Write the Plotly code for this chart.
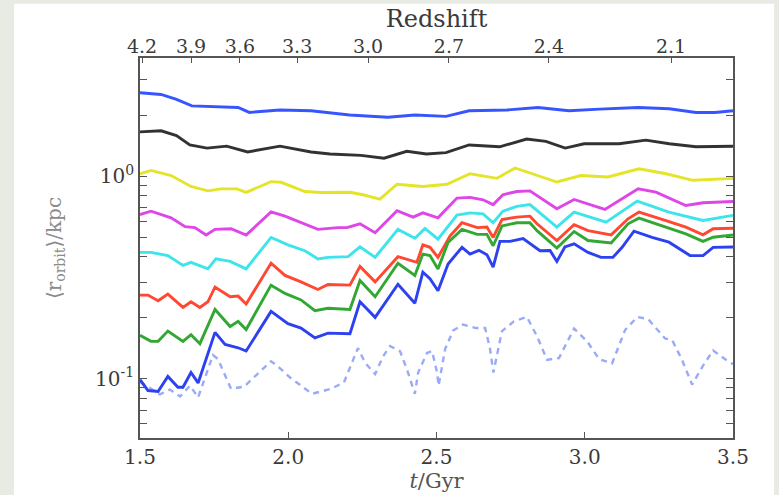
import plotly.graph_objects as go

# ---------------- data (t in Gyr, <r_orbit> in kpc) ----------------
t_blue_top = [1.5, 1.571, 1.623, 1.675, 1.831, 1.869, 1.972, 2.077, 2.207, 2.336, 2.427, 2.532,
              2.610, 2.738, 2.842, 2.947, 3.050, 3.180, 3.285, 3.375, 3.439, 3.5]
r_blue_top = [2.59, 2.54, 2.40, 2.23, 2.19, 2.07, 2.13, 2.11, 2.01, 1.96, 2.01, 1.98,
              2.11, 2.13, 2.19, 2.11, 2.15, 2.19, 2.16, 2.07, 2.07, 2.11]

t_black = [1.5, 1.571, 1.623, 1.668, 1.726, 1.792, 1.863, 1.972, 2.077, 2.141, 2.245, 2.323, 2.400,
           2.466, 2.532, 2.610, 2.713, 2.804, 2.869, 2.934, 2.998, 3.116, 3.206, 3.285, 3.375, 3.5]
r_black = [1.66, 1.68, 1.59, 1.43, 1.38, 1.41, 1.32, 1.41, 1.32, 1.29, 1.27, 1.23, 1.33,
           1.29, 1.31, 1.43, 1.40, 1.53, 1.49, 1.38, 1.45, 1.45, 1.51, 1.45, 1.40, 1.41]

t_yellow = [1.5, 1.537, 1.605, 1.672, 1.729, 1.773, 1.827, 1.858, 1.942, 1.976, 2.056, 2.110, 2.208,
            2.252, 2.309, 2.367, 2.454, 2.535, 2.613, 2.704, 2.765, 2.906, 2.987, 3.078, 3.183,
            3.274, 3.365, 3.5]
r_yellow = [1.03, 1.07, 1.01, 0.891, 0.848, 0.867, 0.867, 0.833, 0.942, 0.935, 0.842, 0.833, 0.835,
            0.811, 0.772, 0.914, 0.891, 0.914, 1.03, 0.978, 1.10, 0.938, 1.01, 0.993, 1.09,
            1.03, 0.956, 0.978]

t_magenta = [1.5, 1.537, 1.605, 1.652, 1.685, 1.723, 1.753, 1.807, 1.858, 1.942, 1.989, 2.056, 2.100,
             2.168, 2.198, 2.242, 2.293, 2.367, 2.421, 2.454, 2.505, 2.569, 2.613, 2.657, 2.691,
             2.724, 2.771, 2.815, 2.906, 2.964, 3.068, 3.180, 3.240, 3.341, 3.399, 3.5]
r_magenta = [0.648, 0.673, 0.624, 0.564, 0.558, 0.513, 0.547, 0.551, 0.513, 0.667, 0.636, 0.578, 0.547,
             0.558, 0.558, 0.583, 0.527, 0.677, 0.629, 0.660, 0.624, 0.781, 0.787, 0.766, 0.725,
             0.811, 0.842, 0.848, 0.692, 0.769, 0.687, 0.869, 0.836, 0.718, 0.741, 0.751]

t_cyan = [1.5, 1.537, 1.594, 1.645, 1.672, 1.729, 1.756, 1.804, 1.858, 1.942, 1.999, 2.056, 2.100,
          2.134, 2.202, 2.242, 2.293, 2.370, 2.427, 2.461, 2.505, 2.569, 2.613, 2.657, 2.691,
          2.724, 2.771, 2.815, 2.906, 2.964, 3.072, 3.177, 3.284, 3.399, 3.5]
r_cyan = [0.421, 0.421, 0.406, 0.363, 0.376, 0.349, 0.391, 0.380, 0.349, 0.499, 0.459, 0.429, 0.391,
          0.398, 0.401, 0.449, 0.398, 0.547, 0.494, 0.553, 0.489, 0.643, 0.660, 0.653, 0.590,
          0.673, 0.711, 0.725, 0.561, 0.666, 0.594, 0.755, 0.666, 0.605, 0.642]

t_red = [1.5, 1.527, 1.561, 1.594, 1.645, 1.672, 1.702, 1.729, 1.753, 1.804, 1.831, 1.858, 1.942,
         1.989, 2.043, 2.100, 2.134, 2.208, 2.242, 2.293, 2.370, 2.434, 2.454, 2.478, 2.505, 2.546,
         2.586, 2.637, 2.670, 2.691, 2.721, 2.771, 2.815, 2.839, 2.906, 2.964, 3.011, 3.089, 3.146,
         3.183, 3.274, 3.341, 3.399, 3.433, 3.5]
r_red = [0.259, 0.259, 0.243, 0.262, 0.225, 0.240, 0.225, 0.240, 0.284, 0.254, 0.256, 0.234, 0.372,
         0.324, 0.301, 0.276, 0.292, 0.290, 0.359, 0.301, 0.401, 0.376, 0.459, 0.446, 0.398, 0.508,
         0.590, 0.558, 0.562, 0.499, 0.612, 0.629, 0.636, 0.583, 0.482, 0.577, 0.539, 0.514, 0.617,
         0.666, 0.605, 0.561, 0.514, 0.551, 0.554]

t_green = [1.5, 1.537, 1.561, 1.594, 1.645, 1.672, 1.702, 1.753, 1.804, 1.831, 1.858, 1.942, 1.989,
           2.043, 2.090, 2.134, 2.208, 2.242, 2.293, 2.370, 2.427, 2.454, 2.478, 2.505, 2.539, 2.586,
           2.637, 2.670, 2.691, 2.721, 2.771, 2.815, 2.839, 2.906, 2.964, 3.011, 3.089, 3.146, 3.183,
           3.274, 3.341, 3.399, 3.433, 3.5]
r_green = [0.164, 0.153, 0.153, 0.172, 0.153, 0.165, 0.149, 0.220, 0.181, 0.192, 0.175, 0.290, 0.264,
           0.245, 0.217, 0.223, 0.220, 0.306, 0.254, 0.372, 0.324, 0.413, 0.406, 0.349, 0.471, 0.547,
           0.517, 0.517, 0.454, 0.569, 0.590, 0.590, 0.539, 0.442, 0.534, 0.482, 0.469, 0.583, 0.622,
           0.561, 0.520, 0.477, 0.500, 0.513]

t_blue_low = [1.5, 1.527, 1.561, 1.594, 1.628, 1.645, 1.672, 1.696, 1.753, 1.787, 1.831, 1.858, 1.942,
              1.999, 2.043, 2.090, 2.134, 2.208, 2.242, 2.293, 2.370, 2.427, 2.454, 2.478, 2.505,
              2.539, 2.586, 2.613, 2.643, 2.670, 2.691, 2.714, 2.748, 2.792, 2.849, 2.883, 2.906,
              2.933, 2.964, 3.011, 3.055, 3.095, 3.126, 3.166, 3.227, 3.284, 3.355, 3.399, 3.433, 3.5]
r_blue_low = [0.0989, 0.0874, 0.0865, 0.1026, 0.0907, 0.0907, 0.1073, 0.0953, 0.1695, 0.1477, 0.1422,
              0.137, 0.215, 0.187, 0.178, 0.159, 0.168, 0.167, 0.240, 0.201, 0.293, 0.236, 0.336,
              0.312, 0.272, 0.369, 0.446, 0.413, 0.431, 0.410, 0.356, 0.477, 0.477, 0.493, 0.429,
              0.430, 0.380, 0.448, 0.464, 0.421, 0.398, 0.398, 0.446, 0.536, 0.500, 0.473, 0.406,
              0.406, 0.446, 0.448]

t_dotted = [1.5, 1.534, 1.567, 1.601, 1.635, 1.669, 1.696, 1.746, 1.763, 1.807, 1.851, 1.942, 1.962,
            2.006, 2.080, 2.144, 2.188, 2.235, 2.259, 2.293, 2.320, 2.343, 2.377, 2.404, 2.427, 2.438,
            2.468, 2.485, 2.502, 2.507, 2.529, 2.556, 2.589, 2.633, 2.664, 2.680, 2.692, 2.708, 2.721,
            2.761, 2.805, 2.839, 2.873, 2.913, 2.964, 3.008, 3.048, 3.092, 3.136, 3.177, 3.214, 3.271,
            3.295, 3.328, 3.362, 3.399, 3.433, 3.476, 3.5]
r_dotted = [0.0967, 0.0894, 0.0836, 0.0884, 0.0817, 0.0924, 0.0808, 0.131, 0.125, 0.0891, 0.0914,
            0.122, 0.116, 0.1014, 0.0842, 0.0891, 0.0960, 0.1416, 0.120, 0.1054, 0.129, 0.145, 0.137,
            0.1073, 0.0842, 0.1073, 0.134, 0.137, 0.1073, 0.0924, 0.140, 0.173, 0.185, 0.178, 0.178,
            0.142, 0.1073, 0.140, 0.172, 0.192, 0.202, 0.162, 0.124, 0.1265, 0.177, 0.153, 0.125,
            0.119, 0.174, 0.202, 0.197, 0.158, 0.155, 0.124, 0.0935, 0.116, 0.138, 0.124, 0.118]

redshift_ticks = [4.2, 3.9, 3.6, 3.3, 3.0, 2.7, 2.4, 2.1]
redshift_tick_t = [1.507, 1.672, 1.837, 2.030, 2.269, 2.542, 2.879, 3.291]

series = [
    (t_blue_top, r_blue_top, "rgb(55,85,255)", "solid"),
    (t_black, r_black, "rgb(50,50,50)", "solid"),
    (t_yellow, r_yellow, "rgb(228,228,40)", "solid"),
    (t_magenta, r_magenta, "rgb(222,70,232)", "solid"),
    (t_cyan, r_cyan, "rgb(60,228,235)", "solid"),
    (t_dotted, r_dotted, "rgba(110,135,245,0.7)", "6px,5px"),
    (t_red, r_red, "rgb(255,72,50)", "solid"),
    (t_green, r_green, "rgb(50,168,50)", "solid"),
    (t_blue_low, r_blue_low, "rgb(45,65,240)", "solid"),
]

fig = go.Figure()
for tx, ry, col, dash in series:
    fig.add_trace(go.Scatter(x=tx, y=ry, mode="lines",
                             line=dict(color=col, width=2.9 if dash == "solid" else 2.4, dash=dash),
                             showlegend=False, hoverinfo="skip"))

# invisible trace for the redshift (top) axis
fig.add_trace(go.Scatter(x=[1.5, 3.5], y=[1, 1], xaxis="x2", mode="lines",
                         line=dict(color="rgba(0,0,0,0)"), showlegend=False, hoverinfo="skip"))

font_family = "DejaVu Serif, Liberation Serif, serif"
axis_col = "#555555"
tick_col = "#3a3a3a"

minor_y = [v * 10 ** e for e in (-2, -1, 0) for v in range(2, 10)]

# plot area in pixels: x 140..733, y 58..443
L, R, T, B = 140, 46, 58, 52
W, H = 779, 495
pw, ph = W - L - R, H - T - B

fig.update_layout(
    width=W, height=H,
    margin=dict(l=L, r=R, t=T, b=B),
    paper_bgcolor="rgb(232,235,228)",
    plot_bgcolor="white",
    font=dict(family=font_family, size=20, color=tick_col),
    xaxis=dict(
        range=[1.5, 3.5], tickvals=[1.5, 2.0, 2.5, 3.0, 3.5],
        ticktext=["1.5", "2.0", "2.5", "3.0", "3.5"],
        ticks="inside", ticklen=6, tickcolor=axis_col, tickwidth=1.2,
        showline=True, linecolor=axis_col, linewidth=1.6, mirror=True,
        showgrid=False, zeroline=False,
        tickfont=dict(size=20, color=tick_col),
        title=dict(text="<i>t</i>/Gyr", font=dict(size=21, color="#555555"), standoff=0),
    ),
    xaxis2=dict(
        range=[1.5, 3.5], overlaying="x", side="top", anchor="y",
        tickvals=redshift_tick_t, ticktext=[f"{z:.1f}" for z in redshift_ticks],
        ticks="inside", ticklen=5, tickcolor=axis_col,
        showline=False, showgrid=False, zeroline=False,
        tickfont=dict(size=19, color=tick_col),
        title=dict(text="Redshift", font=dict(size=24, color=tick_col), standoff=0),
    ),
    yaxis=dict(
        type="log", range=[-1.293, 0.585],
        tickvals=[0.1, 1.0], ticktext=["10<sup>-1</sup>", "10<sup>0</sup>"],
        ticks="inside", ticklen=7, tickcolor=axis_col, tickwidth=1.2,
        minor=dict(tickvals=minor_y, ticks="inside", ticklen=4, tickcolor=axis_col),
        showline=True, linecolor=axis_col, linewidth=1.6, mirror="allticks",
        showgrid=False, zeroline=False,
        tickfont=dict(size=20, color=tick_col),
        title=dict(text="⟨r<sub>orbit</sub>⟩/kpc", font=dict(size=20, color="#8a8a8a"), standoff=28),
    ),
    shapes=[
        dict(type="rect", xref="paper", yref="paper", layer="below",
             x0=(14 - L) / pw, x1=(774 - L) / pw,
             y0=-(B + 10) / ph, y1=(ph + T - 3) / ph,
             fillcolor="white", line=dict(width=0)),
    ],
)

fig.write_html("out.html")
